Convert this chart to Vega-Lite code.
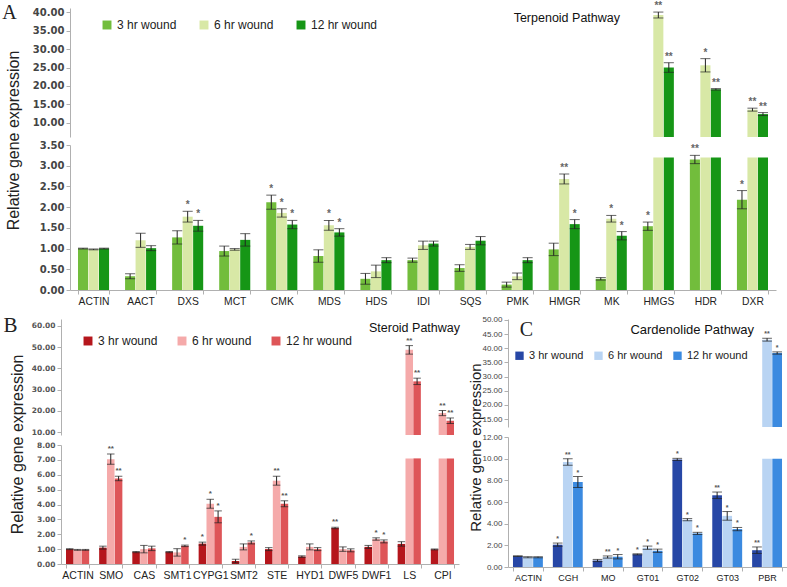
{
"$schema": "https://vega.github.io/schema/vega-lite/v6.json",
"padding": {"left": 1, "top": 1, "right": 0, "bottom": 0},
"background": "white",
"config": {
 "view": {"stroke": null},
 "font": "Liberation Sans",
 "axis": {"grid": false, "labelOverlap": false, "domainColor": "#b0b0b0", "tickColor": "#b0b0b0", "tickSize": 4, "labelColor": "#333", "titleColor": "#222", "titleFontWeight": "normal", "titleFont": "Liberation Sans"},
 "legend": {"orient": "none", "direction": "horizontal", "title": null, "symbolType": "square", "symbolStrokeWidth": 0, "labelFont": "Liberation Sans", "labelColor": "#222", "labelOffset": 4, "padding": 0},
 "title": {"font": "Liberation Sans", "fontWeight": "normal", "color": "#111", "anchor": "end", "frame": "group"}
},
"datasets": {
"A": [
{"g":"ACTIN","t":"3 hr wound","v":1.00,"lo":0.99,"hi":1.01,"s":""},
{"g":"ACTIN","t":"6 hr wound","v":0.98,"lo":0.97,"hi":0.99,"s":""},
{"g":"ACTIN","t":"12 hr wound","v":1.00,"lo":0.99,"hi":1.01,"s":""},
{"g":"AACT","t":"3 hr wound","v":0.33,"lo":0.27,"hi":0.39,"s":""},
{"g":"AACT","t":"6 hr wound","v":1.20,"lo":1.03,"hi":1.37,"s":""},
{"g":"AACT","t":"12 hr wound","v":1.01,"lo":0.95,"hi":1.07,"s":""},
{"g":"DXS","t":"3 hr wound","v":1.27,"lo":1.11,"hi":1.43,"s":""},
{"g":"DXS","t":"6 hr wound","v":1.77,"lo":1.64,"hi":1.90,"s":"*"},
{"g":"DXS","t":"12 hr wound","v":1.55,"lo":1.42,"hi":1.68,"s":"*"},
{"g":"MCT","t":"3 hr wound","v":0.94,"lo":0.82,"hi":1.06,"s":""},
{"g":"MCT","t":"6 hr wound","v":0.98,"lo":0.96,"hi":1.00,"s":""},
{"g":"MCT","t":"12 hr wound","v":1.21,"lo":1.06,"hi":1.36,"s":""},
{"g":"CMK","t":"3 hr wound","v":2.12,"lo":1.95,"hi":2.29,"s":"*"},
{"g":"CMK","t":"6 hr wound","v":1.86,"lo":1.76,"hi":1.96,"s":"*"},
{"g":"CMK","t":"12 hr wound","v":1.58,"lo":1.48,"hi":1.68,"s":"*"},
{"g":"MDS","t":"3 hr wound","v":0.82,"lo":0.67,"hi":0.97,"s":""},
{"g":"MDS","t":"6 hr wound","v":1.56,"lo":1.44,"hi":1.68,"s":"*"},
{"g":"MDS","t":"12 hr wound","v":1.39,"lo":1.30,"hi":1.48,"s":"*"},
{"g":"HDS","t":"3 hr wound","v":0.27,"lo":0.14,"hi":0.40,"s":""},
{"g":"HDS","t":"6 hr wound","v":0.45,"lo":0.30,"hi":0.60,"s":""},
{"g":"HDS","t":"12 hr wound","v":0.72,"lo":0.66,"hi":0.78,"s":""},
{"g":"IDI","t":"3 hr wound","v":0.72,"lo":0.67,"hi":0.77,"s":""},
{"g":"IDI","t":"6 hr wound","v":1.08,"lo":0.98,"hi":1.18,"s":""},
{"g":"IDI","t":"12 hr wound","v":1.12,"lo":1.06,"hi":1.18,"s":""},
{"g":"SQS","t":"3 hr wound","v":0.53,"lo":0.45,"hi":0.61,"s":""},
{"g":"SQS","t":"6 hr wound","v":1.04,"lo":0.98,"hi":1.10,"s":""},
{"g":"SQS","t":"12 hr wound","v":1.19,"lo":1.09,"hi":1.29,"s":""},
{"g":"PMK","t":"3 hr wound","v":0.13,"lo":0.07,"hi":0.19,"s":""},
{"g":"PMK","t":"6 hr wound","v":0.33,"lo":0.25,"hi":0.41,"s":""},
{"g":"PMK","t":"12 hr wound","v":0.72,"lo":0.66,"hi":0.78,"s":""},
{"g":"HMGR","t":"3 hr wound","v":0.98,"lo":0.83,"hi":1.13,"s":""},
{"g":"HMGR","t":"6 hr wound","v":2.68,"lo":2.56,"hi":2.80,"s":"**"},
{"g":"HMGR","t":"12 hr wound","v":1.59,"lo":1.48,"hi":1.70,"s":"*"},
{"g":"MK","t":"3 hr wound","v":0.27,"lo":0.24,"hi":0.30,"s":""},
{"g":"MK","t":"6 hr wound","v":1.72,"lo":1.64,"hi":1.80,"s":"*"},
{"g":"MK","t":"12 hr wound","v":1.31,"lo":1.21,"hi":1.41,"s":"*"},
{"g":"HMGS","t":"3 hr wound","v":1.54,"lo":1.44,"hi":1.64,"s":"*"},
{"g":"HMGS","t":"6 hr wound","v":39.2,"lo":38.4,"hi":40.0,"s":"**"},
{"g":"HMGS","t":"12 hr wound","v":25.0,"lo":23.7,"hi":26.3,"s":"**"},
{"g":"HDR","t":"3 hr wound","v":3.15,"lo":3.05,"hi":3.25,"s":"**"},
{"g":"HDR","t":"6 hr wound","v":25.6,"lo":23.8,"hi":27.4,"s":"*"},
{"g":"HDR","t":"12 hr wound","v":19.1,"lo":18.9,"hi":19.3,"s":"**"},
{"g":"DXR","t":"3 hr wound","v":2.18,"lo":1.96,"hi":2.40,"s":"*"},
{"g":"DXR","t":"6 hr wound","v":13.6,"lo":13.2,"hi":14.0,"s":"**"},
{"g":"DXR","t":"12 hr wound","v":12.4,"lo":12.0,"hi":12.8,"s":"**"}
],
"B": [
{"g":"ACTIN","t":"3 hr wound","v":1.00,"lo":0.97,"hi":1.03,"s":""},
{"g":"ACTIN","t":"6 hr wound","v":0.95,"lo":0.92,"hi":0.98,"s":""},
{"g":"ACTIN","t":"12 hr wound","v":0.95,"lo":0.92,"hi":0.98,"s":""},
{"g":"SMO","t":"3 hr wound","v":1.10,"lo":1.00,"hi":1.20,"s":""},
{"g":"SMO","t":"6 hr wound","v":7.05,"lo":6.70,"hi":7.40,"s":"**"},
{"g":"SMO","t":"12 hr wound","v":5.75,"lo":5.60,"hi":5.90,"s":"**"},
{"g":"CAS","t":"3 hr wound","v":0.80,"lo":0.76,"hi":0.84,"s":""},
{"g":"CAS","t":"6 hr wound","v":1.00,"lo":0.75,"hi":1.25,"s":""},
{"g":"CAS","t":"12 hr wound","v":1.05,"lo":0.90,"hi":1.20,"s":""},
{"g":"SMT1","t":"3 hr wound","v":0.80,"lo":0.76,"hi":0.84,"s":""},
{"g":"SMT1","t":"6 hr wound","v":0.78,"lo":0.53,"hi":1.03,"s":""},
{"g":"SMT1","t":"12 hr wound","v":1.22,"lo":1.17,"hi":1.27,"s":"*"},
{"g":"CYPG1","t":"3 hr wound","v":1.37,"lo":1.27,"hi":1.47,"s":"*"},
{"g":"CYPG1","t":"6 hr wound","v":4.05,"lo":3.75,"hi":4.35,"s":"*"},
{"g":"CYPG1","t":"12 hr wound","v":3.17,"lo":2.77,"hi":3.57,"s":"*"},
{"g":"SMT2","t":"3 hr wound","v":0.20,"lo":0.08,"hi":0.32,"s":""},
{"g":"SMT2","t":"6 hr wound","v":1.15,"lo":0.95,"hi":1.35,"s":""},
{"g":"SMT2","t":"12 hr wound","v":1.45,"lo":1.35,"hi":1.55,"s":"*"},
{"g":"STE","t":"3 hr wound","v":1.00,"lo":0.90,"hi":1.10,"s":""},
{"g":"STE","t":"6 hr wound","v":5.60,"lo":5.30,"hi":5.90,"s":"**"},
{"g":"STE","t":"12 hr wound","v":4.05,"lo":3.85,"hi":4.25,"s":"**"},
{"g":"HYD1","t":"3 hr wound","v":0.50,"lo":0.45,"hi":0.55,"s":""},
{"g":"HYD1","t":"6 hr wound","v":1.15,"lo":0.95,"hi":1.35,"s":""},
{"g":"HYD1","t":"12 hr wound","v":1.00,"lo":0.90,"hi":1.10,"s":""},
{"g":"DWF5","t":"3 hr wound","v":2.42,"lo":2.37,"hi":2.47,"s":"**"},
{"g":"DWF5","t":"6 hr wound","v":1.00,"lo":0.85,"hi":1.15,"s":""},
{"g":"DWF5","t":"12 hr wound","v":0.92,"lo":0.82,"hi":1.02,"s":""},
{"g":"DWF1","t":"3 hr wound","v":1.15,"lo":1.05,"hi":1.25,"s":""},
{"g":"DWF1","t":"6 hr wound","v":1.68,"lo":1.60,"hi":1.76,"s":"*"},
{"g":"DWF1","t":"12 hr wound","v":1.52,"lo":1.42,"hi":1.62,"s":"*"},
{"g":"LS","t":"3 hr wound","v":1.35,"lo":1.20,"hi":1.50,"s":""},
{"g":"LS","t":"6 hr wound","v":48.7,"lo":46.7,"hi":50.7,"s":"**"},
{"g":"LS","t":"12 hr wound","v":33.9,"lo":32.4,"hi":35.4,"s":"**"},
{"g":"CPI","t":"3 hr wound","v":0.98,"lo":0.95,"hi":1.01,"s":""},
{"g":"CPI","t":"6 hr wound","v":19.0,"lo":17.8,"hi":20.2,"s":"**"},
{"g":"CPI","t":"12 hr wound","v":15.4,"lo":14.1,"hi":16.7,"s":"**"}
],
"C": [
{"g":"ACTIN","t":"3 hr wound","v":1.00,"lo":0.97,"hi":1.03,"s":""},
{"g":"ACTIN","t":"6 hr wound","v":0.90,"lo":0.85,"hi":0.95,"s":""},
{"g":"ACTIN","t":"12 hr wound","v":0.90,"lo":0.85,"hi":0.95,"s":""},
{"g":"CGH","t":"3 hr wound","v":2.06,"lo":1.91,"hi":2.21,"s":"*"},
{"g":"CGH","t":"6 hr wound","v":9.70,"lo":9.40,"hi":10.00,"s":"**"},
{"g":"CGH","t":"12 hr wound","v":7.85,"lo":7.35,"hi":8.35,"s":"*"},
{"g":"MO","t":"3 hr wound","v":0.60,"lo":0.50,"hi":0.70,"s":""},
{"g":"MO","t":"6 hr wound","v":0.92,"lo":0.82,"hi":1.02,"s":"**"},
{"g":"MO","t":"12 hr wound","v":0.95,"lo":0.75,"hi":1.15,"s":"*"},
{"g":"GT01","t":"3 hr wound","v":1.17,"lo":1.12,"hi":1.22,"s":"*"},
{"g":"GT01","t":"6 hr wound","v":1.78,"lo":1.63,"hi":1.93,"s":"*"},
{"g":"GT01","t":"12 hr wound","v":1.50,"lo":1.35,"hi":1.65,"s":"*"},
{"g":"GT02","t":"3 hr wound","v":9.93,"lo":9.83,"hi":10.03,"s":"*"},
{"g":"GT02","t":"6 hr wound","v":4.37,"lo":4.27,"hi":4.47,"s":"*"},
{"g":"GT02","t":"12 hr wound","v":3.10,"lo":3.00,"hi":3.20,"s":"*"},
{"g":"GT03","t":"3 hr wound","v":6.62,"lo":6.32,"hi":6.92,"s":"**"},
{"g":"GT03","t":"6 hr wound","v":4.72,"lo":4.32,"hi":5.12,"s":"*"},
{"g":"GT03","t":"12 hr wound","v":3.50,"lo":3.35,"hi":3.65,"s":"*"},
{"g":"PBR","t":"3 hr wound","v":1.55,"lo":1.25,"hi":1.85,"s":"**"},
{"g":"PBR","t":"6 hr wound","v":43.0,"lo":42.5,"hi":43.5,"s":"**"},
{"g":"PBR","t":"12 hr wound","v":38.3,"lo":37.9,"hi":38.7,"s":"*"}
]
},
"columns": 1,
"align": "none",
"spacing": 7,
"resolve": {"scale": {"color": "independent", "x": "independent", "y": "independent", "xOffset": "independent"}, "legend": {"color": "independent"}},
"concat": [
{
 "vconcat": [
 {
  "data": {"name": "A"},
  "width": 706, "height": 129,
  "title": {"text": "Terpenoid Pathway", "fontSize": 12.5, "dx": -156, "dy": 27},
  "encoding": {
   "x": {"field": "g", "type": "nominal", "scale": {"domain": ["ACTIN","AACT","DXS","MCT","CMK","MDS","HDS","IDI","SQS","PMK","HMGR","MK","HMGS","HDR","DXR"], "paddingInner": 0.34, "paddingOuter": 0.17}, "axis": null},
   "xOffset": {"field": "t", "type": "nominal", "scale": {"domain": ["3 hr wound","6 hr wound","12 hr wound"], "paddingInner": 0.04}}
  },
  "layer": [
   {"transform": [{"filter": "datum.v > 6.2"}], "mark": "bar",
    "encoding": {
     "y": {"field": "v", "type": "quantitative", "title": "A", "scale": {"domain": [6.2, 41.1], "nice": false, "zero": false, "clamp": true},
       "axis": {"values": [10,15,20,25,30,35,40], "format": ".2f", "labelOverlap": false, "labelFont": "DejaVu Sans", "labelFontSize": 10, "labelFontWeight": "bold", "labelColor": "#444", "titleFont": "Liberation Serif", "titleFontSize": 20, "titleAngle": 0, "titleX": -61, "titleY": 4, "titleAlign": "center", "titleBaseline": "middle"}},
     "color": {"field": "t", "type": "nominal", "scale": {"domain": ["3 hr wound","6 hr wound","12 hr wound"], "range": ["#72bd3c","#d8e8a6","#169616"]},
       "legend": {"legendX": 31, "legendY": 11, "symbolSize": 80, "labelFontSize": 12, "columnPadding": 21}}
    }},
   {"transform": [{"filter": "datum.v > 6.2"}], "mark": {"type": "errorbar", "ticks": true, "color": "#222"},
    "encoding": {"y": {"field": "lo", "type": "quantitative", "title": "A", "axis": {"values": [10,15,20,25,30,35,40], "format": ".2f", "labelOverlap": false}}, "y2": {"field": "hi"}}},
   {"transform": [{"filter": "datum.v > 6.2"}], "mark": {"type": "text", "baseline": "bottom", "dy": -1, "fontSize": 10, "fontWeight": "bold", "color": "#666"},
    "encoding": {"y": {"field": "hi", "type": "quantitative", "title": "A", "axis": {"values": [10,15,20,25,30,35,40], "format": ".2f", "labelOverlap": false}}, "text": {"field": "s"}}}
  ]
 },
 {
  "data": {"name": "A"},
  "width": 706, "height": 145,
  "encoding": {
   "x": {"field": "g", "type": "nominal", "scale": {"domain": ["ACTIN","AACT","DXS","MCT","CMK","MDS","HDS","IDI","SQS","PMK","HMGR","MK","HMGS","HDR","DXR"], "paddingInner": 0.34, "paddingOuter": 0.17},
     "axis": {"title": null, "labelAngle": 0, "tickBand": "extent", "labelFont": "Liberation Sans", "labelFontSize": 10.3, "labelColor": "#222", "labelPadding": 2}},
   "xOffset": {"field": "t", "type": "nominal", "scale": {"domain": ["3 hr wound","6 hr wound","12 hr wound"], "paddingInner": 0.04}}
  },
  "layer": [
   {"transform": [{"filter": "datum.v <= 3.5"}], "mark": "bar",
    "encoding": {
     "y": {"field": "v", "type": "quantitative", "title": "Relative gene expression", "scale": {"domain": [0, 3.5], "nice": false, "clamp": true},
       "axis": {"values": [0,0.5,1,1.5,2,2.5,3,3.5], "format": ".2f", "labelOverlap": false, "labelFont": "DejaVu Sans", "labelFontSize": 10, "labelFontWeight": "bold", "labelColor": "#444", "titleFontSize": 16, "titleX": -57, "titleY": -5, "titleAlign": "center", "titleBaseline": "middle", "titleAngle": -90}},
     "color": {"field": "t", "type": "nominal", "scale": {"domain": ["3 hr wound","6 hr wound","12 hr wound"], "range": ["#72bd3c","#d8e8a6","#169616"]}, "legend": null}
    }},
   {"transform": [{"filter": "datum.v > 3.5"}], "mark": "bar",
    "encoding": {"y": {"datum": 3.2, "type": "quantitative", "title": "Relative gene expression", "axis": {"values": [0,0.5,1,1.5,2,2.5,3,3.5], "format": ".2f", "labelOverlap": false}},
     "color": {"field": "t", "type": "nominal", "scale": {"domain": ["3 hr wound","6 hr wound","12 hr wound"], "range": ["#72bd3c","#d8e8a6","#169616"]}, "legend": null}}},
   {"transform": [{"filter": "datum.v <= 3.5"}], "mark": {"type": "errorbar", "ticks": true, "color": "#222"},
    "encoding": {"y": {"field": "lo", "type": "quantitative", "title": "Relative gene expression", "axis": {"values": [0,0.5,1,1.5,2,2.5,3,3.5], "format": ".2f", "labelOverlap": false}}, "y2": {"field": "hi"}}},
   {"transform": [{"filter": "datum.v <= 3.5"}], "mark": {"type": "text", "baseline": "bottom", "dy": -1, "fontSize": 10, "fontWeight": "bold", "color": "#666"},
    "encoding": {"y": {"field": "hi", "type": "quantitative", "title": "Relative gene expression", "axis": {"values": [0,0.5,1,1.5,2,2.5,3,3.5], "format": ".2f", "labelOverlap": false}}, "text": {"field": "s"}}}
  ]
 }
 ],
 "spacing": 8,
 "bounds": "flush"
},
{
 "hconcat": [
 {
  "vconcat": [
  {
   "data": {"name": "B"},
   "width": 389, "height": 116,
   "title": {"text": "Steroid Pathway", "fontSize": 12.5, "dx": 1, "dy": 24},
   "encoding": {
    "x": {"field": "g", "type": "nominal", "scale": {"domain": ["ACTIN","SMO","CAS","SMT1","CYPG1","SMT2","STE","HYD1","DWF5","DWF1","LS","CPI"], "range": [-9, 389], "paddingInner": 0.3, "paddingOuter": 0.15}, "axis": null},
    "xOffset": {"field": "t", "type": "nominal", "scale": {"domain": ["3 hr wound","6 hr wound","12 hr wound"], "paddingInner": 0.04}}
   },
   "layer": [
    {"transform": [{"filter": "datum.v > 8.7"}], "mark": "bar",
     "encoding": {
      "y": {"field": "v", "type": "quantitative", "title": "B", "scale": {"domain": [8.7, 63.2], "nice": false, "zero": false, "clamp": true},
        "axis": {"values": [10,20,30,40,50,60], "offset": 9, "format": ".2f", "labelOverlap": false, "labelFont": "DejaVu Sans", "labelFontSize": 7.5, "labelFontWeight": "bold", "labelColor": "#555", "titleFont": "Liberation Serif", "titleFontSize": 21, "titleAngle": 0, "titleX": -51, "titleY": 6, "titleAlign": "center", "titleBaseline": "middle"}},
      "color": {"field": "t", "type": "nominal", "scale": {"domain": ["3 hr wound","6 hr wound","12 hr wound"], "range": ["#b5161c","#f5aaaa","#de5558"]},
        "legend": {"legendX": 12, "legendY": 16, "symbolSize": 80, "labelFontSize": 12, "columnPadding": 18}}
     }},
    {"transform": [{"filter": "datum.v > 8.7"}], "mark": {"type": "errorbar", "ticks": true, "color": "#222"},
     "encoding": {"y": {"field": "lo", "type": "quantitative", "title": "B", "axis": {"values": [10,20,30,40,50,60], "offset": 9, "format": ".2f", "labelOverlap": false}}, "y2": {"field": "hi"}}},
    {"transform": [{"filter": "datum.v > 8.7"}], "mark": {"type": "text", "baseline": "bottom", "dy": -1, "fontSize": 8, "fontWeight": "bold", "color": "#555"},
     "encoding": {"y": {"field": "hi", "type": "quantitative", "title": "B", "axis": {"values": [10,20,30,40,50,60], "offset": 9, "format": ".2f", "labelOverlap": false}}, "text": {"field": "s"}}}
   ]
  },
  {
   "data": {"name": "B"},
   "width": 389, "height": 119,
   "encoding": {
    "x": {"field": "g", "type": "nominal", "scale": {"domain": ["ACTIN","SMO","CAS","SMT1","CYPG1","SMT2","STE","HYD1","DWF5","DWF1","LS","CPI"], "range": [-9, 389], "paddingInner": 0.3, "paddingOuter": 0.15},
      "axis": {"title": null, "labelAngle": 0, "tickBand": "extent", "labelFont": "Liberation Sans", "labelFontSize": 10.5, "labelColor": "#222", "labelPadding": 2}},
    "xOffset": {"field": "t", "type": "nominal", "scale": {"domain": ["3 hr wound","6 hr wound","12 hr wound"], "paddingInner": 0.04}}
   },
   "layer": [
    {"transform": [{"filter": "datum.v <= 8"}], "mark": "bar",
     "encoding": {
      "y": {"field": "v", "type": "quantitative", "title": "Relative gene expression", "scale": {"domain": [0, 8], "nice": false, "clamp": true},
        "axis": {"values": [0,1,2,3,4,5,6,7,8], "offset": 9, "format": ".2f", "labelOverlap": false, "labelFont": "DejaVu Sans", "labelFontSize": 7.5, "labelFontWeight": "bold", "labelColor": "#555", "titleFontSize": 16, "titleX": -44, "titleY": -1, "titleAlign": "center", "titleBaseline": "middle", "titleAngle": -90}},
      "color": {"field": "t", "type": "nominal", "scale": {"domain": ["3 hr wound","6 hr wound","12 hr wound"], "range": ["#b5161c","#f5aaaa","#de5558"]}, "legend": null}
     }},
    {"transform": [{"filter": "datum.v > 8"}], "mark": "bar",
     "encoding": {"y": {"datum": 7.1, "type": "quantitative", "title": "Relative gene expression", "axis": {"values": [0,1,2,3,4,5,6,7,8], "offset": 9, "format": ".2f", "labelOverlap": false}},
      "color": {"field": "t", "type": "nominal", "scale": {"domain": ["3 hr wound","6 hr wound","12 hr wound"], "range": ["#b5161c","#f5aaaa","#de5558"]}, "legend": null}}},
    {"transform": [{"filter": "datum.v <= 8"}], "mark": {"type": "errorbar", "ticks": true, "color": "#222"},
     "encoding": {"y": {"field": "lo", "type": "quantitative", "title": "Relative gene expression", "axis": {"values": [0,1,2,3,4,5,6,7,8], "offset": 9, "format": ".2f", "labelOverlap": false}}, "y2": {"field": "hi"}}},
    {"transform": [{"filter": "datum.v <= 8"}], "mark": {"type": "text", "baseline": "bottom", "dy": -1, "fontSize": 8, "fontWeight": "bold", "color": "#555"},
     "encoding": {"y": {"field": "hi", "type": "quantitative", "title": "Relative gene expression", "axis": {"values": [0,1,2,3,4,5,6,7,8], "offset": 9, "format": ".2f", "labelOverlap": false}}, "text": {"field": "s"}}}
   ]
  }
  ],
  "spacing": 10,
  "bounds": "flush"
 },
 {
  "vconcat": [
  {
   "data": {"name": "C"},
   "width": 279, "height": 108,
   "title": {"text": "Cardenolide Pathway", "fontSize": 13, "dx": -33, "dy": 25},
   "encoding": {
    "x": {"field": "g", "type": "nominal", "scale": {"domain": ["ACTIN","CGH","MO","GT01","GT02","GT03","PBR"], "paddingInner": 0.25, "paddingOuter": 0.125}, "axis": null},
    "xOffset": {"field": "t", "type": "nominal", "scale": {"domain": ["3 hr wound","6 hr wound","12 hr wound"], "paddingInner": 0.04}}
   },
   "layer": [
    {"transform": [{"filter": "datum.v > 12.2"}], "mark": "bar",
     "encoding": {
      "y": {"field": "v", "type": "quantitative", "title": "C", "scale": {"domain": [12.2, 50.3], "nice": false, "zero": false, "clamp": true},
        "axis": {"values": [15,20,25,30,35,40,45,50], "format": ".2f", "labelOverlap": false, "labelFont": "Liberation Sans", "labelFontSize": 8, "labelColor": "#444", "titleFont": "Liberation Serif", "titleFontSize": 20, "titleAngle": 0, "titleX": 18, "titleY": 10, "titleAlign": "center", "titleBaseline": "middle"}},
      "color": {"field": "t", "type": "nominal", "scale": {"domain": ["3 hr wound","6 hr wound","12 hr wound"], "range": ["#2747a6","#b9d4f3","#3b8ae0"]},
        "legend": {"legendX": 6, "legendY": 31, "symbolSize": 70, "labelFontSize": 11, "columnPadding": 9}}
     }},
    {"transform": [{"filter": "datum.v > 12.2"}], "mark": {"type": "errorbar", "ticks": true, "color": "#222"},
     "encoding": {"y": {"field": "lo", "type": "quantitative", "title": "C", "axis": {"values": [15,20,25,30,35,40,45,50], "format": ".2f", "labelOverlap": false}}, "y2": {"field": "hi"}}},
    {"transform": [{"filter": "datum.v > 12.2"}], "mark": {"type": "text", "baseline": "bottom", "dy": -1, "fontSize": 7, "fontWeight": "bold", "color": "#555"},
     "encoding": {"y": {"field": "hi", "type": "quantitative", "title": "C", "axis": {"values": [15,20,25,30,35,40,45,50], "format": ".2f", "labelOverlap": false}}, "text": {"field": "s"}}}
   ]
  },
  {
   "data": {"name": "C"},
   "width": 279, "height": 130,
   "encoding": {
    "x": {"field": "g", "type": "nominal", "scale": {"domain": ["ACTIN","CGH","MO","GT01","GT02","GT03","PBR"], "paddingInner": 0.25, "paddingOuter": 0.125},
      "axis": {"title": null, "labelAngle": 0, "tickBand": "extent", "labelFont": "Liberation Sans", "labelFontSize": 9, "labelColor": "#222", "labelPadding": 2}},
    "xOffset": {"field": "t", "type": "nominal", "scale": {"domain": ["3 hr wound","6 hr wound","12 hr wound"], "paddingInner": 0.04}}
   },
   "layer": [
    {"transform": [{"filter": "datum.v <= 12"}], "mark": "bar",
     "encoding": {
      "y": {"field": "v", "type": "quantitative", "title": "Relative gene expression", "scale": {"domain": [0, 12], "nice": false, "clamp": true},
        "axis": {"values": [0,2,4,6,8,10,12], "format": ".2f", "labelOverlap": false, "labelFont": "Liberation Sans", "labelFontSize": 8, "labelColor": "#444", "titleFontSize": 15, "titleX": -33, "titleY": 10, "titleAlign": "center", "titleBaseline": "middle", "titleAngle": -90}},
      "color": {"field": "t", "type": "nominal", "scale": {"domain": ["3 hr wound","6 hr wound","12 hr wound"], "range": ["#2747a6","#b9d4f3","#3b8ae0"]}, "legend": null}
     }},
    {"transform": [{"filter": "datum.v > 12"}], "mark": "bar",
     "encoding": {"y": {"datum": 10, "type": "quantitative", "title": "Relative gene expression", "axis": {"values": [0,2,4,6,8,10,12], "format": ".2f", "labelOverlap": false}},
      "color": {"field": "t", "type": "nominal", "scale": {"domain": ["3 hr wound","6 hr wound","12 hr wound"], "range": ["#2747a6","#b9d4f3","#3b8ae0"]}, "legend": null}}},
    {"transform": [{"filter": "datum.v <= 12"}], "mark": {"type": "errorbar", "ticks": true, "color": "#222"},
     "encoding": {"y": {"field": "lo", "type": "quantitative", "title": "Relative gene expression", "axis": {"values": [0,2,4,6,8,10,12], "format": ".2f", "labelOverlap": false}}, "y2": {"field": "hi"}}},
    {"transform": [{"filter": "datum.v <= 12"}], "mark": {"type": "text", "baseline": "bottom", "dy": -1, "fontSize": 7, "fontWeight": "bold", "color": "#555"},
     "encoding": {"y": {"field": "hi", "type": "quantitative", "title": "Relative gene expression", "axis": {"values": [0,2,4,6,8,10,12], "format": ".2f", "labelOverlap": false}}, "text": {"field": "s"}}}
   ]
  }
  ],
  "spacing": 10,
  "bounds": "flush"
 }
 ],
 "spacing": -1,
 "align": "none",
 "resolve": {"scale": {"color": "independent", "x": "independent", "y": "independent", "xOffset": "independent"}, "legend": {"color": "independent"}}
}
]
}
